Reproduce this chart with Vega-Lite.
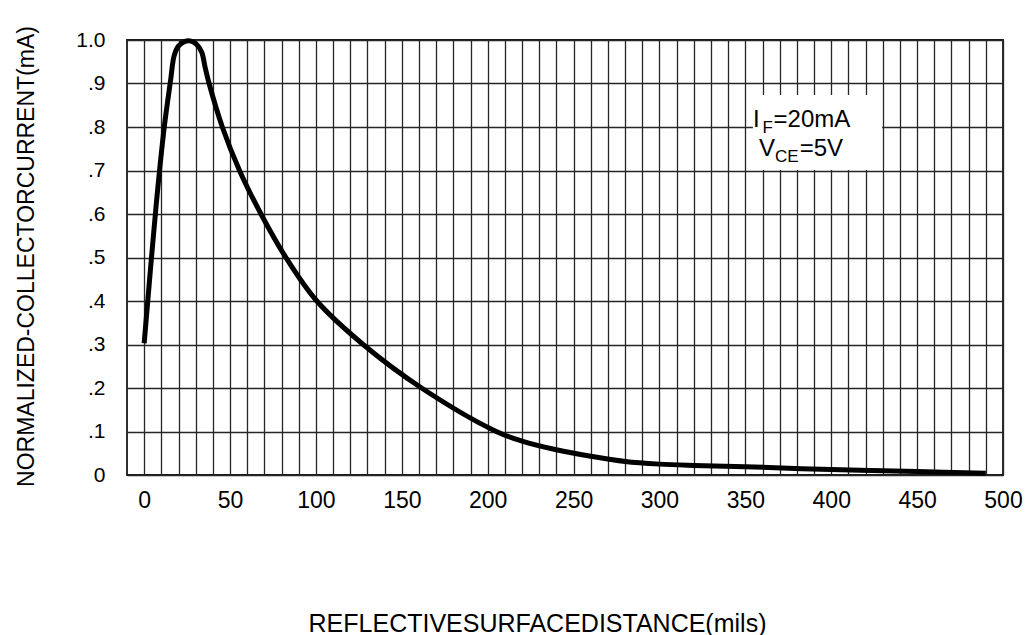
{
  "$schema": "https://vega.github.io/schema/vega-lite/v6.json",
  "width": 876,
  "height": 435,
  "autosize": {"type": "none"},
  "padding": {"left": 127, "top": 40, "right": 28, "bottom": 160},
  "background": "white",
  "config": {
    "font": "Liberation Sans",
    "view": {"stroke": "#1a1a1a", "strokeWidth": 1.8},
    "axis": {
      "grid": true,
      "gridColor": "#262626",
      "gridWidth": 1.3,
      "gridOpacity": 1,
      "ticks": false,
      "domain": false,
      "labelColor": "black",
      "titleColor": "black",
      "labelFont": "Liberation Sans",
      "titleFont": "Liberation Sans",
      "titleFontWeight": "normal",
      "labelOverlap": false,
      "labelFlush": false
    }
  },
  "layer": [
    {
      "data": {
        "values": [
          {"distance": 0, "current": 0.303},
          {"distance": 6.9, "current": 0.617},
          {"distance": 11.7, "current": 0.8},
          {"distance": 15.4, "current": 0.908},
          {"distance": 17.4, "current": 0.963},
          {"distance": 19.9, "current": 0.986},
          {"distance": 23.8, "current": 0.997},
          {"distance": 26.7, "current": 0.998},
          {"distance": 30.5, "current": 0.99},
          {"distance": 33.5, "current": 0.972},
          {"distance": 35.6, "current": 0.935},
          {"distance": 37.8, "current": 0.9},
          {"distance": 45.5, "current": 0.8},
          {"distance": 55.5, "current": 0.7},
          {"distance": 68, "current": 0.6},
          {"distance": 82.5, "current": 0.5},
          {"distance": 100.5, "current": 0.4},
          {"distance": 127.5, "current": 0.3},
          {"distance": 161.5, "current": 0.2},
          {"distance": 205, "current": 0.1},
          {"distance": 220, "current": 0.078},
          {"distance": 240, "current": 0.058},
          {"distance": 260, "current": 0.043},
          {"distance": 280, "current": 0.031},
          {"distance": 300, "current": 0.025},
          {"distance": 320, "current": 0.022},
          {"distance": 350, "current": 0.019},
          {"distance": 400, "current": 0.0125},
          {"distance": 450, "current": 0.008},
          {"distance": 490, "current": 0.004}
        ]
      },
      "mark": {"type": "line", "interpolate": "catmull-rom", "color": "black", "strokeWidth": 5, "strokeCap": "butt", "strokeJoin": "round"},
      "encoding": {
        "x": {
          "field": "distance",
          "type": "quantitative",
          "scale": {"domain": [-10, 500], "nice": false, "zero": false},
          "title": "REFLECTIVESURFACEDISTANCE(mils)",
          "axis": {
            "values": [0,10,20,30,40,50,60,70,80,90,100,110,120,130,140,150,160,170,180,190,200,210,220,230,240,250,260,270,280,290,300,310,320,330,340,350,360,370,380,390,400,410,420,430,440,450,460,470,480,490,500],
            "labelExpr": "datum.value % 50 === 0 ? datum.label : ''",
            "labelFontSize": 23, "labelPadding": 14, "labelDx": 3,
            "titleFontSize": 25, "titleX": 410, "titleY": 156,
            "titleBaseline": "alphabetic", "titleAnchor": "middle", "titleAlign": "center"
          }
        },
        "y": {
          "field": "current",
          "type": "quantitative",
          "scale": {"domain": [0, 1], "nice": false},
          "title": "NORMALIZED-COLLECTORCURRENT(mA)",
          "axis": {
            "values": [0, 0.1, 0.2, 0.3, 0.4, 0.5, 0.6, 0.7, 0.8, 0.9, 1],
            "labelExpr": "datum.value === 0 ? '0' : datum.value === 1 ? '1.0' : substring(format(datum.value, '.1f'), 1)",
            "labelFontSize": 21, "labelPadding": 22, "labelBaseline": "middle",
            "titleFontSize": 23, "titleX": -101, "titleY": 216, "titleAngle": -90,
            "titleBaseline": "middle", "titleAlign": "center"
          }
        }
      }
    },
    {
      "data": {"values": [{}]},
      "mark": {"type": "rect", "fill": "white", "stroke": null},
      "encoding": {
        "x": {"datum": 354.4, "type": "quantitative", "title": "REFLECTIVESURFACEDISTANCE(mils)",
          "axis": {
            "values": [0,10,20,30,40,50,60,70,80,90,100,110,120,130,140,150,160,170,180,190,200,210,220,230,240,250,260,270,280,290,300,310,320,330,340,350,360,370,380,390,400,410,420,430,440,450,460,470,480,490,500],
            "labelExpr": "datum.value % 50 === 0 ? datum.label : ''",
            "labelFontSize": 23, "labelPadding": 14, "labelDx": 3,
            "titleFontSize": 25, "titleX": 410, "titleY": 156,
            "titleBaseline": "alphabetic", "titleAnchor": "middle", "titleAlign": "center"
          }},
        "x2": {"datum": 429.6},
        "y": {"datum": 0.8736, "type": "quantitative", "title": "NORMALIZED-COLLECTORCURRENT(mA)",
          "axis": {
            "values": [0, 0.1, 0.2, 0.3, 0.4, 0.5, 0.6, 0.7, 0.8, 0.9, 1],
            "labelExpr": "datum.value === 0 ? '0' : datum.value === 1 ? '1.0' : substring(format(datum.value, '.1f'), 1)",
            "labelFontSize": 21, "labelPadding": 22, "labelBaseline": "middle",
            "titleFontSize": 23, "titleX": -101, "titleY": 216, "titleAngle": -90,
            "titleBaseline": "middle", "titleAlign": "center"
          }},
        "y2": {"datum": 0.7011}
      }
    },
    {
      "data": {"values": [{"t": "I"}]},
      "mark": {"type": "text", "align": "left", "baseline": "alphabetic", "fontSize": 24, "color": "black"},
      "encoding": {"x": {"datum": 354.5, "type": "quantitative", "title": "REFLECTIVESURFACEDISTANCE(mils)",
          "axis": {
            "values": [0,10,20,30,40,50,60,70,80,90,100,110,120,130,140,150,160,170,180,190,200,210,220,230,240,250,260,270,280,290,300,310,320,330,340,350,360,370,380,390,400,410,420,430,440,450,460,470,480,490,500],
            "labelExpr": "datum.value % 50 === 0 ? datum.label : ''",
            "labelFontSize": 23, "labelPadding": 14, "labelDx": 3,
            "titleFontSize": 25, "titleX": 410, "titleY": 156,
            "titleBaseline": "alphabetic", "titleAnchor": "middle", "titleAlign": "center"
          }},
        "y": {"datum": 0.8007, "type": "quantitative", "title": "NORMALIZED-COLLECTORCURRENT(mA)",
          "axis": {
            "values": [0, 0.1, 0.2, 0.3, 0.4, 0.5, 0.6, 0.7, 0.8, 0.9, 1],
            "labelExpr": "datum.value === 0 ? '0' : datum.value === 1 ? '1.0' : substring(format(datum.value, '.1f'), 1)",
            "labelFontSize": 21, "labelPadding": 22, "labelBaseline": "middle",
            "titleFontSize": 23, "titleX": -101, "titleY": 216, "titleAngle": -90,
            "titleBaseline": "middle", "titleAlign": "center"
          }},
        "text": {"field": "t"}}
    },
    {
      "data": {"values": [{"t": "F"}]},
      "mark": {"type": "text", "align": "left", "baseline": "alphabetic", "fontSize": 17, "color": "black"},
      "encoding": {"x": {"datum": 360, "type": "quantitative", "title": "REFLECTIVESURFACEDISTANCE(mils)",
          "axis": {
            "values": [0,10,20,30,40,50,60,70,80,90,100,110,120,130,140,150,160,170,180,190,200,210,220,230,240,250,260,270,280,290,300,310,320,330,340,350,360,370,380,390,400,410,420,430,440,450,460,470,480,490,500],
            "labelExpr": "datum.value % 50 === 0 ? datum.label : ''",
            "labelFontSize": 23, "labelPadding": 14, "labelDx": 3,
            "titleFontSize": 25, "titleX": 410, "titleY": 156,
            "titleBaseline": "alphabetic", "titleAnchor": "middle", "titleAlign": "center"
          }},
        "y": {"datum": 0.7855, "type": "quantitative", "title": "NORMALIZED-COLLECTORCURRENT(mA)",
          "axis": {
            "values": [0, 0.1, 0.2, 0.3, 0.4, 0.5, 0.6, 0.7, 0.8, 0.9, 1],
            "labelExpr": "datum.value === 0 ? '0' : datum.value === 1 ? '1.0' : substring(format(datum.value, '.1f'), 1)",
            "labelFontSize": 21, "labelPadding": 22, "labelBaseline": "middle",
            "titleFontSize": 23, "titleX": -101, "titleY": 216, "titleAngle": -90,
            "titleBaseline": "middle", "titleAlign": "center"
          }},
        "text": {"field": "t"}}
    },
    {
      "data": {"values": [{"t": "=20mA"}]},
      "mark": {"type": "text", "align": "left", "baseline": "alphabetic", "fontSize": 24, "color": "black"},
      "encoding": {"x": {"datum": 366.4, "type": "quantitative", "title": "REFLECTIVESURFACEDISTANCE(mils)",
          "axis": {
            "values": [0,10,20,30,40,50,60,70,80,90,100,110,120,130,140,150,160,170,180,190,200,210,220,230,240,250,260,270,280,290,300,310,320,330,340,350,360,370,380,390,400,410,420,430,440,450,460,470,480,490,500],
            "labelExpr": "datum.value % 50 === 0 ? datum.label : ''",
            "labelFontSize": 23, "labelPadding": 14, "labelDx": 3,
            "titleFontSize": 25, "titleX": 410, "titleY": 156,
            "titleBaseline": "alphabetic", "titleAnchor": "middle", "titleAlign": "center"
          }},
        "y": {"datum": 0.8007, "type": "quantitative", "title": "NORMALIZED-COLLECTORCURRENT(mA)",
          "axis": {
            "values": [0, 0.1, 0.2, 0.3, 0.4, 0.5, 0.6, 0.7, 0.8, 0.9, 1],
            "labelExpr": "datum.value === 0 ? '0' : datum.value === 1 ? '1.0' : substring(format(datum.value, '.1f'), 1)",
            "labelFontSize": 21, "labelPadding": 22, "labelBaseline": "middle",
            "titleFontSize": 23, "titleX": -101, "titleY": 216, "titleAngle": -90,
            "titleBaseline": "middle", "titleAlign": "center"
          }},
        "text": {"field": "t"}}
    },
    {
      "data": {"values": [{"t": "V"}]},
      "mark": {"type": "text", "align": "left", "baseline": "alphabetic", "fontSize": 24, "color": "black"},
      "encoding": {"x": {"datum": 358, "type": "quantitative", "title": "REFLECTIVESURFACEDISTANCE(mils)",
          "axis": {
            "values": [0,10,20,30,40,50,60,70,80,90,100,110,120,130,140,150,160,170,180,190,200,210,220,230,240,250,260,270,280,290,300,310,320,330,340,350,360,370,380,390,400,410,420,430,440,450,460,470,480,490,500],
            "labelExpr": "datum.value % 50 === 0 ? datum.label : ''",
            "labelFontSize": 23, "labelPadding": 14, "labelDx": 3,
            "titleFontSize": 25, "titleX": 410, "titleY": 156,
            "titleBaseline": "alphabetic", "titleAnchor": "middle", "titleAlign": "center"
          }},
        "y": {"datum": 0.7333, "type": "quantitative", "title": "NORMALIZED-COLLECTORCURRENT(mA)",
          "axis": {
            "values": [0, 0.1, 0.2, 0.3, 0.4, 0.5, 0.6, 0.7, 0.8, 0.9, 1],
            "labelExpr": "datum.value === 0 ? '0' : datum.value === 1 ? '1.0' : substring(format(datum.value, '.1f'), 1)",
            "labelFontSize": 21, "labelPadding": 22, "labelBaseline": "middle",
            "titleFontSize": 23, "titleX": -101, "titleY": 216, "titleAngle": -90,
            "titleBaseline": "middle", "titleAlign": "center"
          }},
        "text": {"field": "t"}}
    },
    {
      "data": {"values": [{"t": "CE"}]},
      "mark": {"type": "text", "align": "left", "baseline": "alphabetic", "fontSize": 17, "color": "black"},
      "encoding": {"x": {"datum": 367.3, "type": "quantitative", "title": "REFLECTIVESURFACEDISTANCE(mils)",
          "axis": {
            "values": [0,10,20,30,40,50,60,70,80,90,100,110,120,130,140,150,160,170,180,190,200,210,220,230,240,250,260,270,280,290,300,310,320,330,340,350,360,370,380,390,400,410,420,430,440,450,460,470,480,490,500],
            "labelExpr": "datum.value % 50 === 0 ? datum.label : ''",
            "labelFontSize": 23, "labelPadding": 14, "labelDx": 3,
            "titleFontSize": 25, "titleX": 410, "titleY": 156,
            "titleBaseline": "alphabetic", "titleAnchor": "middle", "titleAlign": "center"
          }},
        "y": {"datum": 0.72, "type": "quantitative", "title": "NORMALIZED-COLLECTORCURRENT(mA)",
          "axis": {
            "values": [0, 0.1, 0.2, 0.3, 0.4, 0.5, 0.6, 0.7, 0.8, 0.9, 1],
            "labelExpr": "datum.value === 0 ? '0' : datum.value === 1 ? '1.0' : substring(format(datum.value, '.1f'), 1)",
            "labelFontSize": 21, "labelPadding": 22, "labelBaseline": "middle",
            "titleFontSize": 23, "titleX": -101, "titleY": 216, "titleAngle": -90,
            "titleBaseline": "middle", "titleAlign": "center"
          }},
        "text": {"field": "t"}}
    },
    {
      "data": {"values": [{"t": "=5V"}]},
      "mark": {"type": "text", "align": "left", "baseline": "alphabetic", "fontSize": 24, "color": "black"},
      "encoding": {"x": {"datum": 381.6, "type": "quantitative", "title": "REFLECTIVESURFACEDISTANCE(mils)",
          "axis": {
            "values": [0,10,20,30,40,50,60,70,80,90,100,110,120,130,140,150,160,170,180,190,200,210,220,230,240,250,260,270,280,290,300,310,320,330,340,350,360,370,380,390,400,410,420,430,440,450,460,470,480,490,500],
            "labelExpr": "datum.value % 50 === 0 ? datum.label : ''",
            "labelFontSize": 23, "labelPadding": 14, "labelDx": 3,
            "titleFontSize": 25, "titleX": 410, "titleY": 156,
            "titleBaseline": "alphabetic", "titleAnchor": "middle", "titleAlign": "center"
          }},
        "y": {"datum": 0.7333, "type": "quantitative", "title": "NORMALIZED-COLLECTORCURRENT(mA)",
          "axis": {
            "values": [0, 0.1, 0.2, 0.3, 0.4, 0.5, 0.6, 0.7, 0.8, 0.9, 1],
            "labelExpr": "datum.value === 0 ? '0' : datum.value === 1 ? '1.0' : substring(format(datum.value, '.1f'), 1)",
            "labelFontSize": 21, "labelPadding": 22, "labelBaseline": "middle",
            "titleFontSize": 23, "titleX": -101, "titleY": 216, "titleAngle": -90,
            "titleBaseline": "middle", "titleAlign": "center"
          }},
        "text": {"field": "t"}}
    }
  ]
}
